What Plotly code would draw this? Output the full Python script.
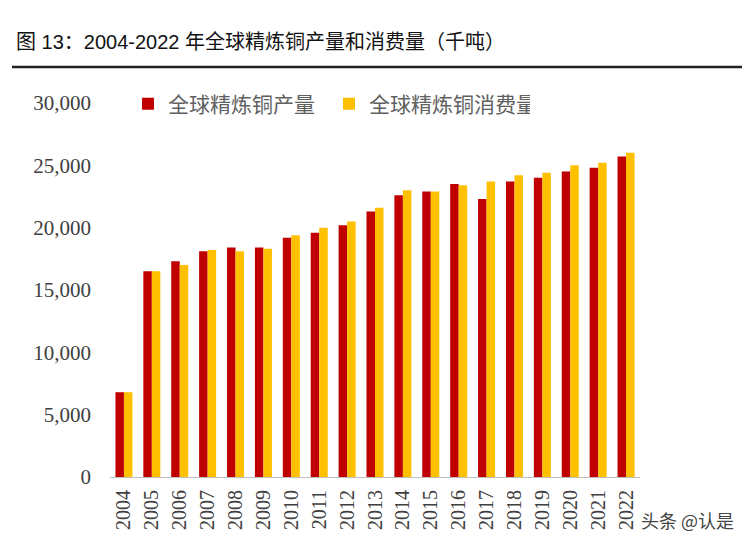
import plotly.graph_objects as go

years = [str(y) for y in range(2004, 2023)]
production = [6800, 16500, 17300, 18100, 18400, 18400, 19200, 19600, 20200, 21300,
              22600, 22900, 23500, 22300, 23700, 24000, 24500, 24800, 25700]
consumption = [6800, 16500, 17000, 18200, 18100, 18300, 19400, 20000, 20500, 21600,
               23000, 22900, 23400, 23700, 24200, 24400, 25000, 25200, 26000]
series_names = ["全球精炼铜产量", "全球精炼铜消费量"]
title_text = "图 13：2004-2022 年全球精炼铜产量和消费量（千吨）"
y_ticks = [0, 5000, 10000, 15000, 20000, 25000, 30000]

# page body has an 8px margin; work in screen coordinates and compensate
O = 8
W, H = 750 - O, 545 - O
plot_left, plot_right, plot_top, plot_bottom = 110, 640, 103, 477
L = plot_left - O
R = W - (plot_right - O)
T = plot_top - O
B = H - (plot_bottom - O)
pw, ph = W - L - R, H - T - B

def px_x(x):
    return (x - O - L) / pw

def px_y(y):
    return (H - B - (y - O)) / ph

fig = go.Figure()
fig.add_trace(go.Bar(x=years, y=production, name=series_names[0],
                     marker=dict(color="#C00000", line=dict(width=0))))
fig.add_trace(go.Bar(x=years, y=consumption, name=series_names[1],
                     marker=dict(color="#FFC000", line=dict(width=0))))

fig.update_layout(
    width=W, height=H,
    margin=dict(l=L, r=R, t=T, b=B, pad=0),
    paper_bgcolor="white", plot_bgcolor="white",
    barmode="group", bargap=0.39, bargroupgap=0,
    showlegend=True,
    legend=dict(orientation="h", x=px_x(128), y=px_y(104), xanchor="left", yanchor="middle",
                xref="paper", yref="paper",
                font=dict(family="Noto Sans CJK SC", size=21, color="#606060"),
                entrywidth=156, entrywidthmode="pixels",
                itemwidth=30, bgcolor="rgba(0,0,0,0)", tracegroupgap=0),
    xaxis=dict(type="category", tickangle=-90, showgrid=False, showline=True,
               linecolor="#BFBFBF", linewidth=1, ticks="", ticklabelstandoff=4,
               tickfont=dict(family="Liberation Serif", size=20, color="#404040")),
    yaxis=dict(range=[0, 30000], tickvals=y_ticks, tickformat=",", showgrid=False,
               showline=False, zeroline=False, ticks="", ticklabelstandoff=18,
               tickfont=dict(family="Liberation Serif", size=21, color="#404040")),
    annotations=[
        dict(text=title_text, xref="paper", yref="paper", x=px_x(14), y=px_y(42),
             xanchor="left", yanchor="middle", showarrow=False,
             font=dict(family="Liberation Sans, Noto Sans CJK SC", size=20, color="#111111")),
        dict(text="头条 @认是", xref="paper", yref="paper", x=px_x(736), y=px_y(520),
             xanchor="right", yanchor="middle", showarrow=False,
             font=dict(family="Noto Sans CJK SC", size=18, color="#444444")),
    ],
    shapes=[
        dict(type="line", xref="paper", yref="paper", x0=px_x(12), x1=px_x(750),
             y0=px_y(67), y1=px_y(67), line=dict(color="#222222", width=2.5)),
    ],
)

fig.write_html("out.html")
